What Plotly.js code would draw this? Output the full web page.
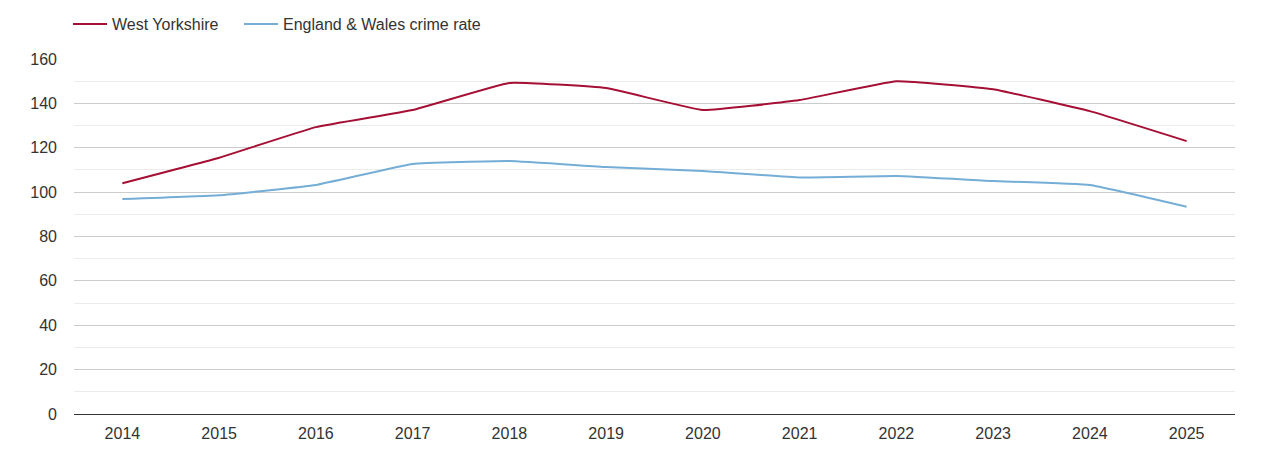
<!DOCTYPE html>
<html>
<head>
<meta charset="utf-8">
<script src="https://cdn.plot.ly/plotly-3.0.1.min.js"></script>
<style>
  html, body { margin: 0; padding: 0; background: #fff; }
  #chart { width: 1270px; height: 450px; }
</style>
</head>
<body>
<div id="chart"></div>
<script>
var years = ['2014', '2015', '2016', '2017', '2018', '2019', '2020', '2021', '2022', '2023', '2024', '2025'];
var westYorkshire = [104, 115.5, 129.3, 137, 149.2, 146.9, 137, 141.5, 150, 146.4, 136.5, 123];
var englandWales = [96.9, 98.6, 103.2, 112.7, 114, 111.3, 109.5, 106.6, 107.3, 105, 103.2, 93.4];
var yTicks = [0, 20, 40, 60, 80, 100, 120, 140, 160];
var minorTicks = [10, 30, 50, 70, 90, 110, 130, 150];

var traces = [
    {
        x: years,
        y: westYorkshire,
        name: 'West Yorkshire',
        type: 'scatter',
        mode: 'lines',
        legend: 'legend',
        line: { color: '#a50f34', width: 2, shape: 'spline', smoothing: 0.3 },
        hoverinfo: 'x+y'
    },
    {
        x: years,
        y: englandWales,
        name: 'England & Wales crime rate',
        type: 'scatter',
        mode: 'lines',
        legend: 'legend2',
        line: { color: '#74add6', width: 2, shape: 'spline', smoothing: 0.3 },
        hoverinfo: 'x+y'
    }
];

// two single-entry legends so the spacing can match the original
var legendBase = {
    orientation: 'h',
    xanchor: 'left',
    yanchor: 'middle',
    xref: 'container',
    yref: 'container',
    y: 1 - 24 / 450,
    font: { size: 16, color: '#333' },
    itemwidth: 34,
    bgcolor: 'rgba(0,0,0,0)'
};

var layout = {
    width: 1270,
    height: 450,
    plot_bgcolor: '#fff',
    paper_bgcolor: '#fff',
    font: { family: 'Arial, "Liberation Sans", sans-serif', size: 16, color: '#333' },
    margin: { l: 74, r: 35, t: 59, b: 36 },
    showlegend: true,
    legend: Object.assign({}, legendBase, { x: 68 / 1270 }),
    legend2: Object.assign({}, legendBase, { x: 239 / 1270 }),
    xaxis: {
        type: 'category',
        range: [-0.5, 11.5],
        showgrid: false,
        zeroline: false,
        showline: true,
        linecolor: '#333',
        linewidth: 1,
        ticks: '',
        ticklabelstandoff: 5,
        tickfont: { size: 16, color: '#333' },
        fixedrange: true
    },
    yaxis: {
        range: [0, 160],
        tickvals: yTicks,
        showgrid: true,
        gridcolor: '#cccccc',
        gridwidth: 1,
        zeroline: false,
        showline: false,
        ticks: '',
        ticklabelstandoff: 16,
        tickfont: { size: 16, color: '#333' },
        minor: { tickvals: minorTicks, showgrid: true, gridcolor: '#ececec', gridwidth: 1 },
        fixedrange: true
    }
};

document.addEventListener('DOMContentLoaded', function() {
    Plotly.newPlot('chart', traces, layout, { displayModeBar: false, staticPlot: true });
});
</script>
</body>
</html>
